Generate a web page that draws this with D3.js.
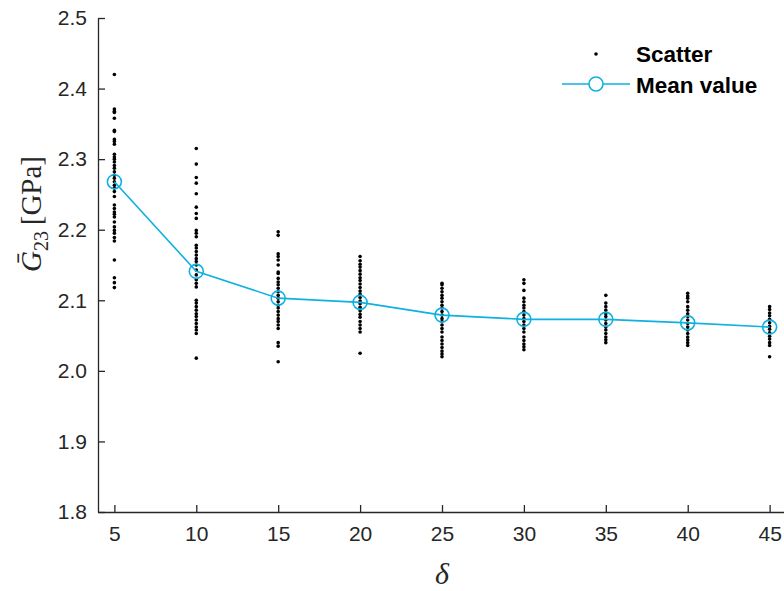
<!DOCTYPE html>
<html><head><meta charset="utf-8">
<script src="https://cdn.jsdelivr.net/npm/d3@7"></script>
<style>body{margin:0;background:#fff}svg{display:block}</style>
</head><body>
<svg id="c" width="784" height="591"></svg>
<script>
const categories = [5,10,15,20,25,30,35,40,45];
const meanValues = [2.268,2.141,2.103,2.097,2.079,2.073,2.073,2.068,2.062];
const scatter5 = [2.420,2.371,2.368,2.366,2.358,2.341,2.339,2.328,2.325,2.321,2.307,2.303,2.300,2.296,2.291,2.287,2.282,2.277,2.273,2.268,2.263,2.259,2.254,2.247,2.235,2.230,2.225,2.222,2.218,2.211,2.204,2.199,2.195,2.189,2.184,2.157,2.132,2.125,2.118];
const scatter10 = [2.315,2.293,2.274,2.266,2.251,2.232,2.223,2.216,2.199,2.195,2.190,2.178,2.174,2.169,2.164,2.159,2.155,2.150,2.143,2.136,2.129,2.124,2.119,2.100,2.096,2.091,2.086,2.081,2.077,2.072,2.067,2.062,2.058,2.053,2.018];
const scatter15 = [2.197,2.192,2.166,2.162,2.157,2.150,2.140,2.138,2.131,2.126,2.122,2.117,2.112,2.107,2.103,2.098,2.093,2.089,2.084,2.079,2.074,2.070,2.065,2.060,2.040,2.035,2.013];
const scatter20 = [2.162,2.156,2.151,2.147,2.142,2.137,2.132,2.128,2.123,2.118,2.113,2.109,2.104,2.099,2.095,2.090,2.085,2.080,2.076,2.070,2.065,2.060,2.055,2.025];
const scatter25 = [2.124,2.122,2.117,2.112,2.107,2.103,2.098,2.093,2.089,2.084,2.079,2.074,2.070,2.065,2.060,2.055,2.048,2.043,2.038,2.033,2.028,2.024,2.020];
const scatter30 = [2.129,2.124,2.114,2.103,2.098,2.093,2.089,2.084,2.079,2.074,2.070,2.065,2.060,2.055,2.048,2.043,2.038,2.034,2.030];
const scatter35 = [2.107,2.096,2.091,2.086,2.081,2.077,2.072,2.067,2.062,2.058,2.053,2.048,2.044,2.040];
const scatter40 = [2.110,2.106,2.103,2.098,2.091,2.086,2.081,2.077,2.072,2.067,2.062,2.058,2.053,2.048,2.044,2.040,2.036];
const scatter45 = [2.091,2.087,2.082,2.078,2.073,2.068,2.063,2.059,2.054,2.049,2.045,2.040,2.036,2.020];
const xTicks = [5,10,15,20,25,30,35,40,45];
const yTicks = [1.8,1.9,2.0,2.1,2.2,2.3,2.4,2.5];

const scatterSets = [scatter5,scatter10,scatter15,scatter20,scatter25,scatter30,scatter35,scatter40,scatter45];
const points = [];
scatterSets.forEach((arr,i)=>arr.forEach(v=>points.push({x:categories[i],y:v})));

const svg = d3.select('#c');
const x = d3.scaleLinear().domain([4,46]).range([98,786]);
const y = d3.scaleLinear().domain([1.8,2.5]).range([512,18]);
const axisColor = '#262626';
const blue = '#0fb0e2';

const gx = svg.append('g').attr('transform','translate(0,512)')
  .call(d3.axisBottom(x).tickValues(xTicks).tickSizeInner(-7).tickSizeOuter(0).tickPadding(14));
const gy = svg.append('g').attr('transform','translate(98,0)')
  .call(d3.axisLeft(y).tickValues(yTicks).tickFormat(d3.format('.1f')).tickSizeInner(-7).tickSizeOuter(0).tickPadding(11));
[gx,gy].forEach(g=>{
  g.select('.domain').attr('stroke',axisColor).attr('stroke-width',1.3);
  g.selectAll('.tick line').attr('stroke',axisColor).attr('stroke-width',1.3);
  g.selectAll('.tick text').attr('fill',axisColor).style('font-family','Liberation Sans, Arial, sans-serif').style('font-size','21px');
});

svg.append('g').selectAll('circle').data(points).join('circle')
  .attr('cx',d=>x(d.x)).attr('cy',d=>y(d.y)).attr('r',1.8).attr('fill','#000');

const means = categories.map((c,i)=>({x:c,y:meanValues[i]}));
svg.append('path').datum(means)
  .attr('d',d3.line().x(d=>x(d.x)).y(d=>y(d.y)))
  .attr('fill','none').attr('stroke',blue).attr('stroke-width',1.6);
svg.append('g').selectAll('circle').data(means).join('circle')
  .attr('cx',d=>x(d.x)).attr('cy',d=>y(d.y)).attr('r',7).attr('fill','none')
  .attr('stroke',blue).attr('stroke-width',1.6);

// legend
const lg = svg.append('g');
lg.append('circle').attr('cx',596).attr('cy',54).attr('r',1.8).attr('fill','#000');
lg.append('line').attr('x1',562).attr('x2',630).attr('y1',84).attr('y2',84).attr('stroke',blue).attr('stroke-width',1.6);
lg.append('circle').attr('cx',596).attr('cy',84).attr('r',7).attr('fill','#fff').attr('stroke',blue).attr('stroke-width',1.6);
lg.append('text').attr('x',636).attr('y',62).text('Scatter')
  .style('font-family','Liberation Sans, Arial, sans-serif').style('font-weight','bold').style('font-size','22.5px');
lg.append('text').attr('x',636).attr('y',93).text('Mean value')
  .style('font-family','Liberation Sans, Arial, sans-serif').style('font-weight','bold').style('font-size','22.5px');

// x label
svg.append('text').attr('x',442).attr('y',584).attr('text-anchor','middle')
  .style('font-family','Liberation Serif, Times New Roman, serif').style('font-style','italic').style('font-size','30px')
  .attr('fill',axisColor).text('δ');

// y label
const yl = svg.append('text').attr('transform','translate(41,214) rotate(-90)').attr('text-anchor','middle')
  .style('font-family','Liberation Serif, Times New Roman, serif').style('font-size','29px').attr('fill',axisColor);
yl.append('tspan').style('font-style','italic').text('Ḡ');
yl.append('tspan').attr('dy',7).style('font-size','20px').text('23');
yl.append('tspan').attr('dy',-7).text('\u2009[GPa]');
</script>
</body></html>
